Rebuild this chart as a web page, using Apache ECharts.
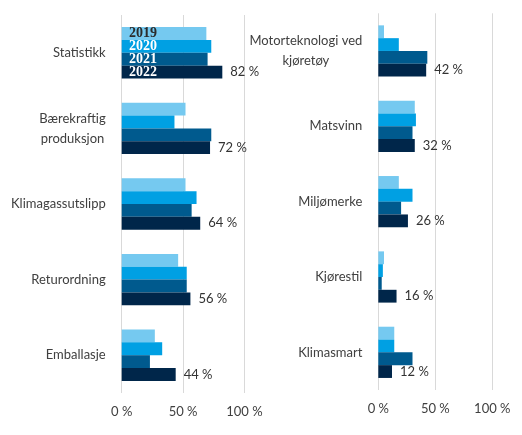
<!DOCTYPE html>
<html>
<head>
<meta charset="utf-8">
<script src="https://cdn.jsdelivr.net/npm/echarts@6/dist/echarts.min.js"></script>
<style>html,body{margin:0;padding:0;background:#fff;}#c{width:522px;height:435px;}</style>
</head>
<body>
<div id="c"></div>
<script>
const years = ['2019', '2020', '2021', '2022'];
const colors = ['#75c9f0', '#00a0e3', '#005a8e', '#00264a'];
const categoriesLeft = ['Statistikk', 'Bærekraftig\nproduksjon', 'Klimagassutslipp', 'Returordning', 'Emballasje'];
const v2019L = [69, 52, 52, 46, 27];
const v2020L = [73, 43, 61, 53, 33];
const v2021L = [70, 73, 57, 53, 23];
const v2022L = [82, 72, 64, 56, 44];
const categoriesRight = ['Motorteknologi ved\nkjøretøy', 'Matsvinn', 'Miljømerke', 'Kjørestil', 'Klimasmart'];
const v2019R = [5, 32, 18, 5, 14];
const v2020R = [18, 33, 30, 4, 14];
const v2021R = [43, 30, 20, 3, 30];
const v2022R = [42, 32, 26, 16, 12];
const xTicks = [0, 50, 100];

const FONT = 'Lato';
const leftVals = [v2019L, v2020L, v2021L, v2022L];
const rightVals = [v2019R, v2020R, v2021R, v2022R];

function catLabel(v) {
  if (v.indexOf('\n') >= 0) return v.split('\n').map(l => '{c|' + l + '}').join('\n');
  return v;
}

function xAxis(gi) {
  return {
    gridIndex: gi, type: 'value', min: xTicks[0], max: xTicks[xTicks.length - 1], interval: 50,
    axisLine: {show: false}, axisTick: {show: false},
    splitLine: {show: true, lineStyle: {color: '#d9d9d9', width: 1}},
    axisLabel: {formatter: '{value} %', color: '#404040', fontFamily: FONT, fontSize: 13, margin: 12}
  };
}
function yAxis(gi, cats) {
  return {
    gridIndex: gi, type: 'category', data: cats, inverse: true,
    axisLine: {show: false}, axisTick: {show: false},
    axisLabel: {
      color: '#404040', fontFamily: FONT, fontSize: 13, margin: 16, lineHeight: 20,
      formatter: catLabel,
      rich: {c: {align: 'center', color: '#404040', fontFamily: FONT, fontSize: 13, lineHeight: 20}}
    }
  };
}

const series = [];
[leftVals, rightVals].forEach((vals, gi) => {
  vals.forEach((arr, si) => {
    series.push({
      name: years[si], type: 'bar', xAxisIndex: gi, yAxisIndex: gi, data: arr,
      barGap: '0%', barCategoryGap: '32%',
      itemStyle: {color: colors[si]},
      label: si === 3 ? {
        show: true, position: 'right', distance: 8, formatter: p => p.value + ' %',
        color: '#333', fontFamily: FONT, fontSize: 13
      } : {show: false},
      emphasis: {disabled: true}
    });
  });
});

const chart = echarts.init(document.getElementById('c'));
chart.setOption({
  animation: false,
  legend: {
    orient: 'vertical', left: 124, top: 26.5, padding: 0, itemGap: -0.9, itemWidth: 0, itemHeight: 13,
    icon: 'none', selectedMode: false,
    textStyle: {fontFamily: 'Liberation Serif', fontWeight: 'bold', fontSize: 14},
    data: years.map((y, i) => ({name: y, textStyle: {color: i === 0 ? '#2b2b2b' : '#ffffff'}}))
  },
  grid: [
    {left: 121.7, top: 15, width: 122.7, height: 378},
    {left: 378.3, top: 13.3, width: 114, height: 376.7}
  ],
  xAxis: [xAxis(0), xAxis(1)],
  yAxis: [yAxis(0, categoriesLeft), yAxis(1, categoriesRight)],
  series: series
});
</script>
</body>
</html>
